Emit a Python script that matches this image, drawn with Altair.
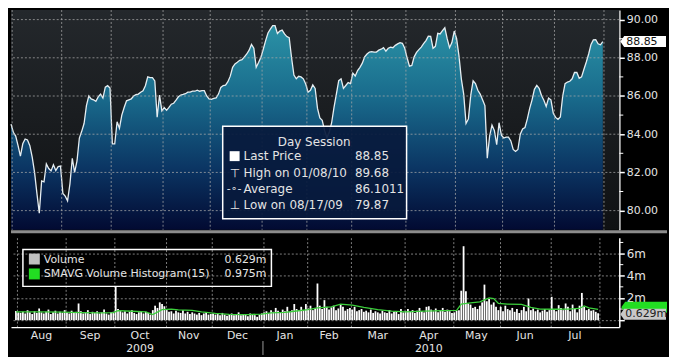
import altair as alt
import pandas as pd

# ---------------- data ----------------
price = [
    84.53, 84.1, 83.9, 83.4, 82.85, 83.5, 83.75, 83.7, 83.4, 82.8,
    82.0, 80.9, 79.87, 81.55, 81.5, 82.44, 82.2, 82.08, 82.4, 82.1,
    82.3, 82.33, 80.9, 80.76, 80.51, 81.4, 82.74, 82.0, 82.6, 83.8,
    84.15, 84.56, 85.5, 86.0, 85.85, 85.8, 85.72, 85.95, 86.1, 85.89,
    86.46, 86.54, 86.42, 83.49, 83.49, 84.65, 84.31, 85.0, 85.4, 85.75,
    85.8, 85.85, 86.0, 86.07, 86.1, 86.2, 86.27, 86.54, 87.0, 86.96,
    86.96, 86.79, 84.89, 86.05, 85.22, 85.39, 85.25, 85.4, 85.57, 85.62,
    85.78, 85.96, 86.05, 86.08, 86.12, 86.2, 86.2, 86.25, 86.25, 86.3,
    86.25, 86.28, 86.28, 86.0, 85.85, 85.82, 85.87, 85.9, 86.1, 86.45,
    86.55, 86.57, 86.75, 87.04, 87.5, 87.68, 87.77, 87.87, 87.9, 88.05,
    88.2, 88.4, 88.7, 88.5, 87.5, 87.75, 88.03, 88.45, 88.9, 89.3,
    89.5, 89.68, 89.68, 89.27, 89.4, 89.45, 89.25, 89.11, 89.05, 88.0,
    87.1, 86.9, 87.03, 87.0, 86.9, 86.63, 86.2, 86.3, 86.58, 86.4,
    85.35, 84.85, 84.73, 84.2, 83.82, 84.1, 84.6, 85.4, 86.1, 86.8,
    86.9, 86.4, 86.55, 86.7, 86.65, 87.2, 87.05, 87.33, 87.5, 87.72,
    88.05, 88.2, 88.3, 88.32, 88.3, 88.3, 88.4, 88.45, 88.53, 88.35,
    88.5, 88.56, 88.53, 88.65, 88.73, 88.79, 88.76, 88.5, 88.0, 87.56,
    87.6, 88.05, 88.28, 88.43, 88.56, 88.74, 88.9, 89.13, 89.12, 88.5,
    88.6, 89.28, 89.25, 89.42, 89.57, 89.0, 88.53, 88.8, 89.4, 89.0,
    88.1, 86.9, 86.1, 84.56, 84.8, 86.05, 86.8, 86.65, 86.3, 86.1,
    85.8, 85.5, 82.74, 83.9, 84.48, 84.2, 83.45, 84.6, 83.95, 83.8,
    83.85, 83.85, 83.65, 83.2, 83.1, 83.2, 84.0, 84.27, 84.35, 84.8,
    85.35, 85.8, 86.35, 86.56, 86.4, 86.03, 85.78, 85.45, 85.89, 85.8,
    85.1, 84.88, 84.78, 84.9, 86.0, 86.65, 86.73, 86.77, 86.9, 87.23,
    87.23, 86.93, 87.0, 87.4, 87.78, 88.2, 88.7, 88.94, 88.95, 88.73,
    88.68, 88.85,
]

volume = [
    # Aug
    0.82, 0.7, 0.65, 0.75, 0.6, 0.9, 0.7, 0.55, 0.8, 0.65, 1.05, 0.7, 0.6, 0.75, 0.95, 0.55, 0.7, 0.85, 0.6, 0.75, 0.65, 0.9,
    # Sep
    0.7, 0.6, 0.85, 0.65, 0.75, 1.5, 0.8, 0.6, 0.7, 0.9, 0.55, 0.75, 0.65, 0.8, 0.6, 0.7, 0.95, 0.6, 0.5, 0.7, 0.75,
    # Oct
    3.0, 1.0, 0.85, 0.7, 0.8, 0.6, 0.75, 0.9, 0.65, 0.55, 0.7, 0.8, 0.6, 0.75, 0.65, 0.5, 0.9, 1.3, 1.1, 1.6, 1.45, 1.25,
    # Nov
    0.9, 0.75, 0.8, 0.6, 0.85, 0.7, 0.65, 0.9, 0.6, 0.75, 0.55, 0.7, 0.6, 0.5, 0.65, 0.45, 0.6, 0.7, 0.5, 0.55,
    # Dec
    0.6, 0.5, 0.55, 0.45, 0.65, 0.5, 0.4, 0.55, 0.6, 0.45, 0.5, 0.7, 0.45, 0.5, 0.55, 0.35, 0.6, 0.5, 0.45, 0.3, 0.5, 0.6,
    # Jan
    0.7, 0.8, 0.65, 0.9, 0.75, 1.1, 0.85, 0.7, 0.95, 0.8, 1.2, 0.75, 0.9, 1.45, 1.0, 0.85, 1.2, 0.9, 1.45,
    # Feb
    1.05, 1.3, 0.9, 1.1, 3.3, 1.3, 1.0, 1.8, 1.2, 0.95, 1.15, 1.3, 0.9, 1.05, 1.4, 1.2, 0.85, 1.0, 1.1,
    # Mar
    0.95, 1.2, 0.8, 0.9, 1.0, 0.75, 0.85, 0.7, 0.95, 0.65, 0.8, 0.7, 0.6, 0.85, 0.7, 0.65, 0.9, 0.6, 0.75, 0.8, 0.55, 1.0, 0.7,
    # Apr
    0.8, 1.0, 0.75, 0.9, 0.65, 0.85, 1.1, 0.8, 0.7, 1.2, 1.25, 0.95, 0.8, 1.05, 0.7, 0.9, 1.1, 0.75, 0.95, 0.8, 0.65,
    # May
    0.7, 0.85, 0.9, 2.65, 6.66, 2.6, 1.5, 1.4, 1.1, 1.2, 1.0, 1.3, 1.6, 3.2, 1.7, 1.9, 1.4, 1.6, 1.2, 0.9,
    # Jun
    1.2, 0.8, 1.3, 1.0, 0.9, 1.1, 0.75, 1.0, 0.65, 0.9, 1.2, 0.8, 1.95, 0.9, 1.05, 0.8, 0.95, 0.7, 0.85, 1.0, 0.75, 0.9,
    # Jul
    2.1, 1.0, 0.8, 1.35, 1.1, 0.9, 1.5, 1.2, 0.8, 1.4, 1.0, 0.7, 1.3, 2.45, 1.2, 0.9, 1.0, 0.85, 0.9, 0.75, 0.629,
]

# SMAVG(15) read at selected trading days
sma_day = [0, 10, 20, 28, 36, 42, 44, 50, 56, 59, 63, 67, 70, 76, 80, 86, 92, 100, 106, 110,
           116, 120, 126, 130, 136, 140, 145, 150, 156, 162, 168, 176, 184, 190, 192, 196, 200,
           204, 206, 208, 212, 218, 222, 226, 232, 238, 243, 245, 247, 251]
sma_val = [0.74, 0.75, 0.72, 0.68, 0.66, 0.68, 0.86, 0.8, 0.74, 0.5, 0.95, 1.0, 0.92, 0.88, 0.75,
           0.6, 0.52, 0.5, 0.55, 0.65, 0.7, 0.8, 0.95, 1.1, 1.2, 1.45, 1.35, 1.15, 0.95, 0.82,
           0.75, 0.82, 0.85, 0.88, 1.45, 1.55, 1.65, 2.0, 1.95, 1.5, 1.45, 1.42, 1.15, 1.0, 0.98,
           1.0, 1.05, 1.28, 1.1, 0.975]

month_bounds = [0.5, 21.5, 42.5, 64.5, 84.5, 106.5, 125.5, 144.5, 167.5, 188.5, 208.5, 230.5, 251.5]
month_labels = ["Aug", "Sep", "Oct", "Nov", "Dec", "Jan", "Feb", "Mar", "Apr", "May", "Jun", "Jul"]
year_labels = ["2009", "2010"]
year_under_month = ["Oct", "Apr"]
year_split_month = "Jan"

price_ticks = [80, 82, 84, 86, 88, 90]
price_minor = [81, 83, 85, 87, 89]
vol_ticks = [0, 2, 4, 6]
vol_minor = [1, 3, 5, 7]

last_price = 88.85
high_price, high_date = 89.68, "01/08/10"
avg_price = 86.1011
low_price, low_date = 79.87, "08/17/09"
last_vol = 0.629
last_sma = 0.975

# ---------------- layout ----------------
W = 612
H1 = 221
H2 = 90
FONT = "DejaVu Sans"
TXT = "#e4e4e4"
GRID = "#a8a8a8"

x_dom = [0, 258]
p_dom = [79.0, 90.5]
v_dom = [-0.63, 7.43]

xs = alt.Scale(domain=x_dom, nice=False, zero=False)
ys1 = alt.Scale(domain=p_dom, nice=False, zero=False)
ys2 = alt.Scale(domain=v_dom, nice=False, zero=False)

# one axis definition per channel and panel, repeated in every layer so merging is trivial
AX_X1 = alt.Axis(values=month_bounds, labels=False, ticks=False, domain=False, grid=False, title=None)
AX_Y1 = alt.Axis(orient="right", values=price_ticks, format=".2f", title=None, grid=False,
                 labelColor=TXT, labelFont=FONT, labelFontSize=11, labelOverlap=False,
                 tickColor="white", tickSize=5, tickWidth=1.5,
                 domainColor="white", domainWidth=1.5, labelPadding=2)
AX_X2 = alt.Axis(values=month_bounds, labels=False, ticks=False, title=None,
                 grid=True, gridColor=GRID, gridDash=[2, 2], gridOpacity=0.75,
                 domainColor="white", domainWidth=1.5)
AX_Y2 = alt.Axis(orient="right", values=vol_ticks, title=None,
                 labelExpr="datum.value == 0 ? '' : datum.value + 'm'", labelOverlap=False,
                 grid=True, gridColor=GRID, gridDash=[2, 2], gridOpacity=0.75,
                 labelColor=TXT, labelFont=FONT, labelFontSize=12,
                 tickColor="white", tickSize=5, tickWidth=1.5,
                 domainColor="white", domainWidth=1.5, labelPadding=2)

df = pd.DataFrame({"day": list(range(len(price))), "price": price, "vol": volume})
sma_df = pd.DataFrame({"day": sma_day, "sma": sma_val})
mids = [(a + b) / 2 for a, b in zip(month_bounds[:-1], month_bounds[1:])]
mdf = pd.DataFrame({"mid": mids, "label": month_labels})
ydf = pd.DataFrame({"mid": [mids[month_labels.index(m)] for m in year_under_month], "label": year_labels})
one = pd.DataFrame({"a": [0]})


def X1(f):
    return alt.X(f, scale=xs, axis=AX_X1)


def Y1(f):
    return alt.Y(f, scale=ys1, axis=AX_Y1)


def X2(f):
    return alt.X(f, scale=xs, axis=AX_X2)


def Y2(f):
    return alt.Y(f, scale=ys2, axis=AX_Y2)


def txt(text, x, y, size=12, color=TXT, align="left", **kw):
    return alt.Chart(one).mark_text(text=text, font=FONT, fontSize=size, color=color,
                                    align=align, baseline="middle", **kw).encode(
        x=alt.value(x), y=alt.value(y))


def box(x1, x2, y1, y2, **kw):
    return alt.Chart(one).mark_rect(**kw).encode(
        x=alt.value(x1), x2=alt.value(x2), y=alt.value(y1), y2=alt.value(y2))


bg_grad = {"gradient": "linear", "x1": 0, "y1": 0, "x2": 0, "y2": 1,
           "stops": [{"offset": 0, "color": "#24282c"}, {"offset": 1, "color": "#0f1113"}]}
area_grad = {"gradient": "linear", "x1": 0, "y1": 0, "x2": 0, "y2": 1,
             "stops": [{"offset": 0, "color": "#2b92a6"},
                       {"offset": 0.35, "color": "#196b8c"},
                       {"offset": 0.7, "color": "#0b3563"},
                       {"offset": 1, "color": "#020a32"}]}

tag_path = "M-1,0 L-0.83,-0.24 L1,-0.24 L1,0.24 L-0.83,0.24 Z"

# ---------------- upper panel ----------------
bg = box(0, W, 0, H1, fill=bg_grad)

area = alt.Chart(df).mark_area(fill=area_grad).encode(
    x=X1("day:Q"), y=Y1("price:Q"), y2=alt.datum(p_dom[0]))
line = alt.Chart(df).mark_line(color="#e6eef2", strokeWidth=1.3).encode(x=X1("day:Q"), y=Y1("price:Q"))

hgrid = alt.Chart(pd.DataFrame({"v": price_ticks})).mark_rule(
    color=GRID, strokeDash=[2, 2], opacity=0.75, strokeWidth=1).encode(y=Y1("v:Q"))
vgrid1 = alt.Chart(pd.DataFrame({"b": month_bounds})).mark_rule(
    color=GRID, strokeDash=[2, 2], opacity=0.75, strokeWidth=1).encode(x=X1("b:Q"))
minor1 = alt.Chart(pd.DataFrame({"v": price_minor})).mark_rule(color="white").encode(
    y=Y1("v:Q"), x=alt.value(W), x2=alt.value(W + 4))

# price legend box
LX, LY = 213, 117
leg1 = [
    box(LX, LX + 185, LY, LY + 93, fill="#071a3c", fillOpacity=0.93, stroke="white", strokeWidth=1.5),
    txt("Day Session", LX + 92, LY + 16, align="center"),
    box(LX + 7, LX + 17, LY + 25, LY + 35, fill="white"),
    txt("Last Price", LX + 21, LY + 30),
    txt(f"{last_price:.2f}", LX + 133, LY + 30),
    txt("\u22a4", LX + 7, LY + 47),
    txt(f"High on {high_date}", LX + 21, LY + 47),
    txt(f"{high_price:.2f}", LX + 133, LY + 47),
    txt("-\u2218-", LX + 4, LY + 63, size=11),
    txt("Average", LX + 21, LY + 63),
    txt(f"{avg_price:.4f}", LX + 133, LY + 63),
    txt("\u22a5", LX + 7, LY + 79),
    txt(f"Low on {low_date}", LX + 21, LY + 79),
    txt(f"{low_price:.2f}", LX + 133, LY + 79),
]

price_tag = alt.Chart(one).transform_calculate(v=str(last_price)).mark_point(
    shape=tag_path, filled=True, fill="white", opacity=1, size=46 * 46, strokeWidth=0).encode(
    x=alt.value(W + 24), y=Y1("v:Q"))
price_tag_txt = alt.Chart(one).transform_calculate(v=str(last_price)).mark_text(
    text=f"{last_price:.2f}", font=FONT, fontSize=11, color="#111", align="left",
    baseline="middle").encode(x=alt.value(W + 7), y=Y1("v:Q"))

sep = alt.Chart(one).mark_rule(color="#8c8c8c", strokeWidth=3).encode(
    x=alt.value(0), x2=alt.value(W + 48), y=alt.value(H1 + 2))

upper = alt.layer(bg, area, line, hgrid, vgrid1, minor1, *leg1, price_tag, price_tag_txt, sep).properties(
    width=W, height=H1)

# ---------------- lower panel ----------------
bars = alt.Chart(df).mark_bar(color="white", width=1.8).encode(
    x=X2("day:Q"), y=Y2("vol:Q"), y2=alt.datum(0))
sma_line = alt.Chart(sma_df).mark_line(color="#3ccf3c", strokeWidth=1.3).encode(
    x=X2("day:Q"), y=Y2("sma:Q"))
minor2 = alt.Chart(pd.DataFrame({"v": vol_minor})).mark_rule(color="white").encode(
    y=Y2("v:Q"), x=alt.value(W), x2=alt.value(W + 4))

leg2 = [
    box(12, 262, 12, 49, fillOpacity=0, stroke="white", strokeWidth=1.5),
    box(18, 29, 16, 27, fill="#c0c0c0"),
    txt("Volume", 33, 22, size=11),
    txt(f"{last_vol:.3f}m", 257, 22, size=11, align="right"),
    box(18, 29, 31, 42, fill="#22dd22"),
    txt("SMAVG Volume Histogram(15)", 33, 37, size=11),
    txt(f"{last_sma:.3f}m", 257, 37, size=11, align="right"),
]

sma_tag = alt.Chart(one).transform_calculate(v=str(last_sma)).mark_point(
    shape=tag_path, filled=True, fill="#22dd22", opacity=1, size=46 * 46, strokeWidth=0,
    yOffset=-2).encode(x=alt.value(W + 25), y=Y2("v:Q"))
vol_tag = alt.Chart(one).transform_calculate(v=str(last_vol)).mark_point(
    shape=tag_path, filled=True, fill="#c8c8c8", opacity=1, size=46 * 46, strokeWidth=0,
    yOffset=1).encode(x=alt.value(W + 24), y=Y2("v:Q"))
vol_tag_txt = alt.Chart(one).transform_calculate(v=str(last_vol)).mark_text(
    text=f"{last_vol:.3f}m", font=FONT, fontSize=11, color="#222", align="left",
    baseline="middle", dy=1).encode(x=alt.value(W + 6), y=Y2("v:Q"))

mlabels = alt.Chart(mdf).mark_text(font=FONT, fontSize=11, color=TXT, baseline="middle").encode(
    x=X2("mid:Q"), y=alt.value(H2 + 9), text="label:N")
ylabels = alt.Chart(ydf).mark_text(font=FONT, fontSize=11, color=TXT, baseline="middle").encode(
    x=X2("mid:Q"), y=alt.value(H2 + 22), text="label:N")
ysplit = alt.Chart(pd.DataFrame({"b": [month_bounds[month_labels.index(year_split_month)]]})).mark_rule(
    color="#9a9a9a").encode(x=X2("b:Q"), y=alt.value(H2 + 14), y2=alt.value(H2 + 28))

lower = alt.layer(bars, sma_line, minor2, *leg2, sma_tag, vol_tag, vol_tag_txt,
                  mlabels, ylabels, ysplit).properties(width=W, height=H2)

chart = alt.vconcat(upper, lower, spacing=4).properties(
    padding=0, background="black"
).configure_view(stroke=None).configure_concat(spacing=4)

chart.save("out.html", embed_options={"renderer": "svg", "actions": False})
